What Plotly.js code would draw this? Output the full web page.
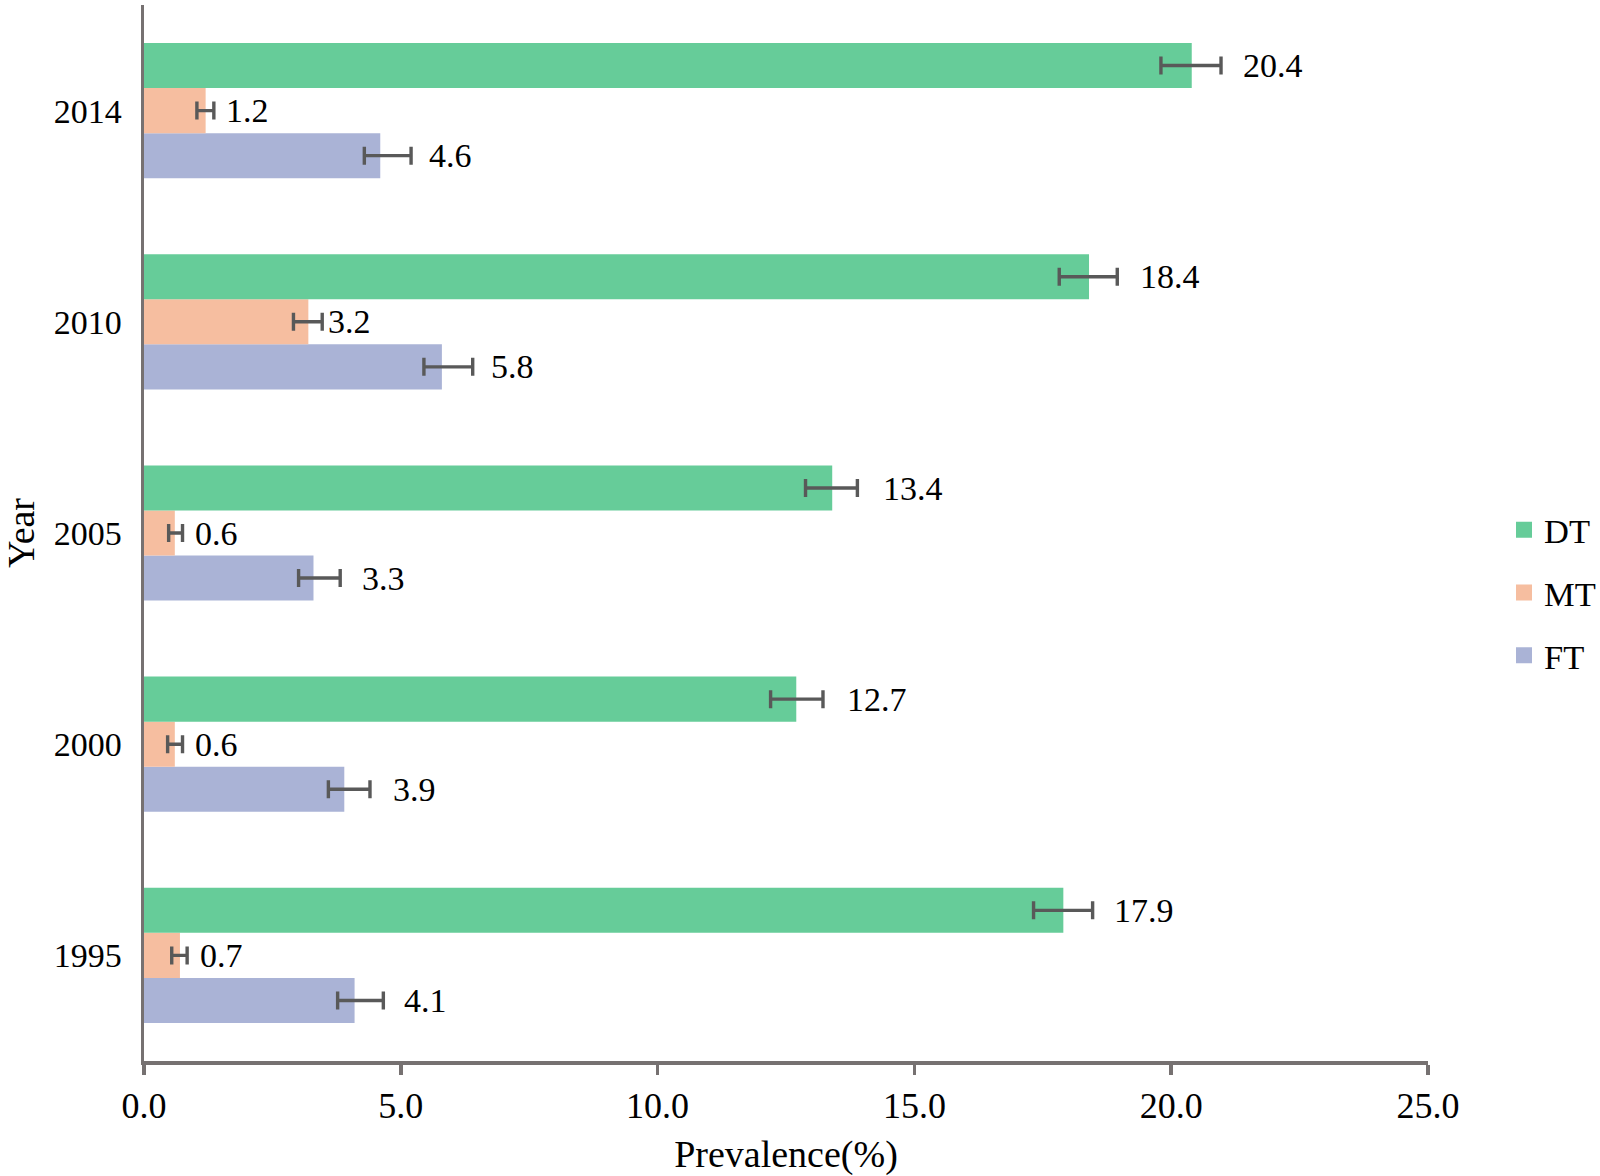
<!DOCTYPE html>
<html>
<head>
<meta charset="utf-8">
<script src="https://cdn.plot.ly/plotly-3.0.1.min.js"></script>
<style>html,body{margin:0;padding:0;background:#fff;}#chart{width:1600px;height:1176px;}</style>
</head>
<body>
<div id="chart"></div>
<script>
// ---- data ----
const years = ['1995', '2000', '2005', '2010', '2014'];
const seriesNames = ['DT', 'MT', 'FT'];
const dtValues = [17.9, 12.7, 13.4, 18.4, 20.4];
const mtValues = [0.7, 0.6, 0.6, 3.2, 1.2];
const ftValues = [4.1, 3.9, 3.3, 5.8, 4.6];
const dtErrPlus = [0.57, 0.52, 0.49, 0.55, 0.57];
const dtErrMinus = [0.58, 0.50, 0.52, 0.58, 0.60];
const mtErrPlus = [0.14, 0.15, 0.15, 0.27, 0.16];
const mtErrMinus = [0.16, 0.14, 0.12, 0.29, 0.17];
const ftErrPlus = [0.56, 0.50, 0.52, 0.60, 0.60];
const ftErrMinus = [0.33, 0.31, 0.29, 0.35, 0.31];
const xTickVals = [0, 5, 10, 15, 20, 25];
const xTickText = ['0.0', '5.0', '10.0', '15.0', '20.0', '25.0'];

// ---- styles ----
const colors = {DT: '#66CC99', MT: '#F6BEA0', FT: '#AAB3D6'};
const errColor = '#595959';
const axisColor = '#767171';
const fontFam = '"Liberation Serif", "Times New Roman", serif';
const fs = 34;
const fsXTick = 36;
const fsTitle = 38;

function errObj(plus, minus) {
  return {type: 'data', symmetric: false, array: plus, arrayminus: minus,
          color: errColor, thickness: 3.4, width: 9};
}

const series = [
  {name: 'FT', vals: ftValues, ep: ftErrPlus, em: ftErrMinus, shift: 47, yshift: -45},
  {name: 'MT', vals: mtValues, ep: mtErrPlus, em: mtErrMinus, shift: 18, yshift: 0},
  {name: 'DT', vals: dtValues, ep: dtErrPlus, em: dtErrMinus, shift: 49, yshift: 45}
];

const traces = series.map(s => ({
  type: 'bar', orientation: 'h', name: s.name,
  x: s.vals, y: years,
  marker: {color: colors[s.name], line: {width: 0}},
  error_x: errObj(s.ep, s.em),
  showlegend: false, hoverinfo: 'x+name'
}));

// legend-only markers (larger squares than bar legend glyphs)
seriesNames.forEach(n => {
  traces.push({type: 'scatter', mode: 'markers', name: n, x: [null], y: [null],
    marker: {symbol: 'square', size: 16, color: colors[n]},
    legendgroup: n, showlegend: true, hoverinfo: 'skip'});
});

// value labels: on a category axis, annotation y is the category index
const annotations = [];
series.forEach(s => {
  s.vals.forEach((v, i) => {
    annotations.push({x: v, y: years.indexOf(years[i]), xref: 'x', yref: 'y', text: v.toFixed(1),
      showarrow: false, xanchor: 'left', yanchor: 'middle', xshift: s.shift, yshift: s.yshift,
      font: {family: fontFam, size: fs, color: '#000'}});
  });
});

const layout = {
  width: 1600, height: 1176,
  paper_bgcolor: '#fff', plot_bgcolor: '#fff',
  margin: {l: 144, r: 172, t: 5, b: 115},
  barmode: 'group', bargap: 0.36, bargroupgap: 0,
  font: {family: fontFam, size: fs, color: '#000'},
  xaxis: {
    range: [0, 25], tickvals: xTickVals, ticktext: xTickText, automargin: false,
    showgrid: false, zeroline: false,
    showline: true, linecolor: axisColor, linewidth: 3.5,
    ticks: 'outside', ticklen: 10, tickwidth: 3.5, tickcolor: axisColor,
    tickfont: {family: fontFam, size: fsXTick, color: '#000'},
    title: {text: 'Prevalence(%)', font: {family: fontFam, size: fsTitle, color: '#000'}, standoff: 22}
  },
  yaxis: {
    type: 'category', categoryorder: 'array', categoryarray: years, automargin: false,
    range: [-0.5, 4.5],
    showgrid: false, zeroline: false,
    showline: true, linecolor: axisColor, linewidth: 3.5,
    ticks: '', ticklabelstandoff: 12,
    tickfont: {family: fontFam, size: fs, color: '#000'},
    title: {text: 'Year', font: {family: fontFam, size: fsTitle, color: '#000'}, standoff: 12}
  },
  legend: {
    xref: 'container', yref: 'container',
    x: 0.94, y: 0.496, xanchor: 'left', yanchor: 'middle',
    traceorder: 'grouped', tracegroupgap: 15,
    font: {family: fontFam, size: 34.5, color: '#000'},
    itemwidth: 30, bgcolor: 'rgba(0,0,0,0)'
  },
  annotations: annotations
};

Plotly.newPlot('chart', traces, layout, {displayModeBar: false, staticPlot: true});
</script>
</body>
</html>
